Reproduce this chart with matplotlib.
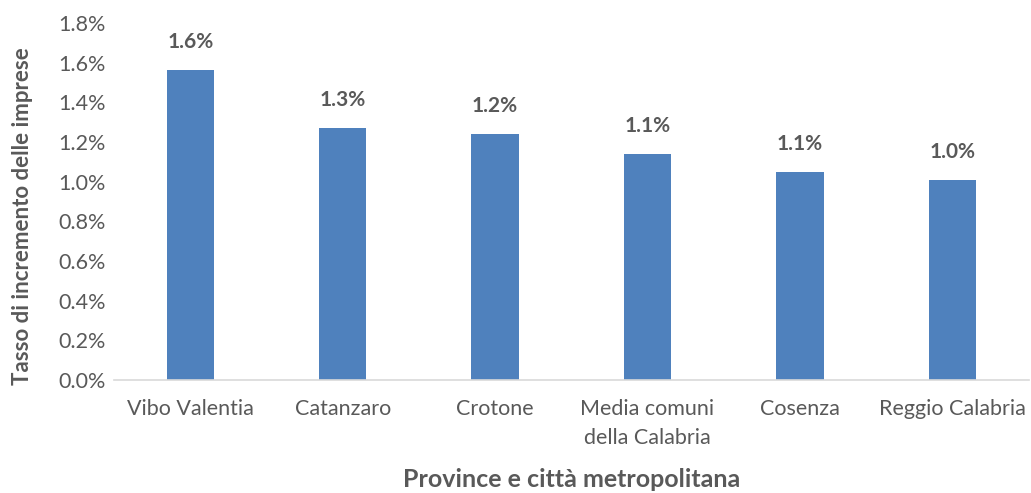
import matplotlib
matplotlib.use("Agg")
import matplotlib.pyplot as plt
from matplotlib.ticker import FuncFormatter

# data
provinces = ["Vibo Valentia", "Catanzaro", "Crotone", "Media comuni\ndella Calabria",
             "Cosenza", "Reggio Calabria"]
growth = [1.565, 1.272, 1.24, 1.14, 1.05, 1.01]
labels = ["1.6%", "1.3%", "1.2%", "1.1%", "1.1%", "1.0%"]

plt.rcParams['font.family'] = ['Lato', 'DejaVu Sans']
text_col = '#595959'

fig = plt.figure(figsize=(10.31, 4.93), dpi=100)
ax = fig.add_axes([0.1106, 0.2292, 0.887, 0.7241])

x = list(range(len(provinces)))
ax.bar(x, growth, width=0.31, color='#4F81BD', zorder=2)

# value labels above each bar
for i, (v, lab) in enumerate(zip(growth, labels)):
    ax.text(i, v + 0.09, lab, ha='center', va='bottom', fontsize=15,
            fontweight='bold', color=text_col)

ax.set_xlim(-0.5, 5.5)
ax.set_ylim(0, 1.8)
ax.set_yticks([i * 0.2 for i in range(10)])
ax.yaxis.set_major_formatter(FuncFormatter(lambda v, p: f"{v:.1f}%"))
ax.set_xticks(x)
ax.set_xticklabels(provinces, linespacing=1.55)

ax.tick_params(axis='both', length=0, labelsize=15.5, labelcolor=text_col)
ax.tick_params(axis='x', pad=14)
ax.tick_params(axis='y', pad=6)

for s in ['top', 'right', 'left']:
    ax.spines[s].set_visible(False)
ax.spines['bottom'].set_color('#D9D9D9')
ax.spines['bottom'].set_linewidth(1.2)

ax.set_ylabel('Tasso di incremento delle imprese', fontsize=16, fontweight='bold',
              color=text_col, va='center')
ax.set_xlabel('Province e città metropolitana', fontsize=18, fontweight='bold',
              color=text_col, va='center')
ax.yaxis.set_label_coords(-0.1, 0.46)
ax.xaxis.set_label_coords(0.5, -0.28)

fig.savefig('out.png', dpi=100)
